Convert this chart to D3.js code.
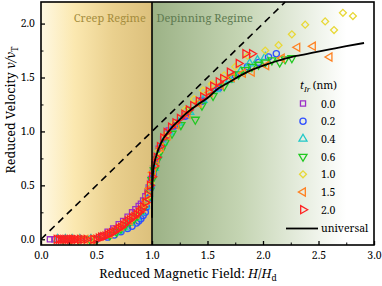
<!DOCTYPE html>
<html><head><meta charset="utf-8">
<script src="https://cdn.jsdelivr.net/npm/d3@7/dist/d3.min.js"></script>
<style>body{margin:0;background:#fff}svg{display:block}</style>
</head><body><svg id="c" width="382" height="286"></svg>
<script>
const xTicks=[0.0,0.5,1.0,1.5,2.0,2.5,3.0];
const yTicks=[0.0,0.5,1.0,1.5,2.0];
const seriesNames=["0.0","0.2","0.4","0.6","1.0","1.5","2.0"];
const h00=[0.08,0.12,0.16,0.20,0.25,0.30,0.36,0.42,0.48,0.55,0.60,0.65,0.70,0.74,0.78,0.82,0.85,0.88,0.90,0.92,0.94,0.96,0.97,0.99,1.01,1.03,1.06,1.10,1.15,1.22,1.30,1.45,1.60];
const v00=[0,0,0,0,0,0,0,0,0,0.03,0.07,0.10,0.14,0.17,0.21,0.25,0.28,0.31,0.33,0.36,0.40,0.44,0.48,0.56,0.66,0.74,0.84,0.93,1.01,1.08,1.15,1.29,1.41];
const h02=[0.20,0.24,0.30,0.36,0.44,0.50,0.60,0.66,0.72,0.78,0.82,0.86,0.88,0.90,0.92,0.94,0.95,0.97,0.99,1.01,1.04,1.08,1.13,1.20,1.30,1.45,1.60,1.75,1.86,1.96,2.05,2.12];
const v02=[0,0,0,0,0,0,0.02,0.04,0.07,0.10,0.12,0.15,0.17,0.19,0.22,0.25,0.30,0.38,0.48,0.60,0.73,0.85,0.96,1.05,1.14,1.28,1.40,1.52,1.60,1.64,1.69,1.72];
const h04=[0.15,0.22,0.28,0.35,0.45,0.60,0.66,0.70,0.75,0.80,0.86,0.90,0.94,0.97,0.99,1.02,1.05,1.10,1.16,1.24,1.34,1.46,1.58,1.70,1.80,1.88,1.95,2.02];
const v04=[0,0,0,0,0,0.03,0.06,0.08,0.11,0.15,0.20,0.25,0.31,0.42,0.52,0.66,0.78,0.90,0.99,1.08,1.18,1.29,1.39,1.48,1.56,1.63,1.66,1.69];
const h06=[0.20,0.27,0.34,0.44,0.50,0.62,0.68,0.72,0.76,0.80,0.84,0.87,0.92,0.95,0.98,1.00,1.02,1.05,1.08,1.12,1.18,1.26,1.34,1.39,1.45,1.55,1.65,1.72,1.78,1.84,1.90,1.96,2.02,2.08,2.15,2.20,2.26];
const v06=[0,0,0,0,0,0.04,0.07,0.10,0.13,0.16,0.19,0.22,0.28,0.35,0.45,0.55,0.64,0.74,0.82,0.90,0.98,1.06,1.20,1.11,1.24,1.33,1.42,1.50,1.53,1.57,1.60,1.62,1.64,1.66,1.64,1.67,1.68];
const h10=[0.30,0.38,0.45,0.62,0.72,0.82,0.88,0.93,0.96,0.99,1.02,1.06,1.12,1.20,1.30,1.38,1.46,1.54,1.65,1.75,1.86,2.02,2.14,2.26,2.38,2.56,2.64,2.72,2.81];
const v10=[0,0,0,0.05,0.11,0.19,0.25,0.32,0.40,0.52,0.68,0.82,0.96,1.07,1.20,1.30,1.38,1.44,1.52,1.60,1.70,1.75,1.80,1.90,1.99,2.02,1.94,2.10,2.07];
const h15=[0.25,0.32,0.40,0.45,0.62,0.72,0.80,0.86,0.91,0.95,0.98,1.01,1.04,1.08,1.14,1.22,1.32,1.42,1.52,1.62,1.72,1.82,1.90,2.03,2.17,2.31,2.45,2.60];
const v15=[0,0,0,0,0.05,0.12,0.17,0.23,0.29,0.36,0.47,0.62,0.74,0.85,0.96,1.06,1.16,1.26,1.36,1.43,1.50,1.54,1.55,1.61,1.68,1.78,1.79,1.69];
const h20=[0.14,0.16,0.18,0.20,0.22,0.24,0.26,0.28,0.30,0.32,0.35,0.38,0.41,0.47,0.50,0.52,0.54,0.56,0.58,0.60,0.62,0.64,0.66,0.68,0.70,0.72,0.74,0.76,0.78,0.80,0.82,0.84,0.86,0.88,0.90,0.92,0.94,0.96,0.98,1.00,1.02,1.04,1.07,1.10,1.13,1.17,1.21,1.25,1.29,1.33,1.37,1.42,1.46,1.51,1.55,1.60,1.64,1.70,1.78,1.84,1.90];
const v20=[0,0,0,0,0,0,0,0,0,0,0,0,0,0,0,0.01,0.02,0.025,0.03,0.04,0.05,0.06,0.07,0.085,0.10,0.11,0.13,0.15,0.17,0.18,0.20,0.21,0.23,0.25,0.27,0.30,0.34,0.41,0.50,0.58,0.68,0.76,0.86,0.94,0.99,1.04,1.08,1.12,1.16,1.20,1.24,1.28,1.32,1.37,1.42,1.46,1.49,1.55,1.63,1.72,1.72];
const uniH=[1.0,1.002,1.008,1.02,1.04,1.06,1.10,1.15,1.20,1.25,1.30,1.40,1.50,1.60,1.70,1.80,1.90,2.00,2.15,2.30,2.45,2.60,2.75,2.91];
const uniV=[0.20,0.40,0.60,0.70,0.78,0.84,0.93,1.00,1.06,1.11,1.16,1.24,1.31,1.40,1.46,1.52,1.57,1.61,1.66,1.70,1.73,1.76,1.79,1.82];
const dashH=[0,2.2];
const dashV=[0,2.2];

const colors=["#9b30c8","#3050ff","#20c8c8","#20c820","#e8d838","#ff8020","#ff2020"];
const H=[h00,h02,h04,h06,h10,h15,h20], V=[v00,v02,v04,v06,v10,v15,v20];
const FF="Noto Serif";

const svg=d3.select("#c");
const L=41,R=374,T=2,B=245;
const x=d3.scaleLinear().domain([0,3]).range([L,R]);
const y=d3.scaleLinear().domain([-0.053,2.2]).range([B,T]);
const defs=svg.append("defs");
const g1=defs.append("linearGradient").attr("id","creep").attr("gradientUnits","userSpaceOnUse").attr("x1",x(0)).attr("x2",x(1)).attr("y1",0).attr("y2",0);
g1.append("stop").attr("offset",0).attr("stop-color","#fef8e2");
g1.append("stop").attr("offset",0.3).attr("stop-color","#fbe8b0");
g1.append("stop").attr("offset",0.65).attr("stop-color","#ead08e");
g1.append("stop").attr("offset",1).attr("stop-color","#dcc07c");
const g2=defs.append("linearGradient").attr("id","dep").attr("gradientUnits","userSpaceOnUse").attr("x1",x(1)).attr("x2",x(2.75)).attr("y1",0).attr("y2",0);
g2.append("stop").attr("offset",0).attr("stop-color","#9cb286");
g2.append("stop").attr("offset",0.45).attr("stop-color","#c4d4b2");
g2.append("stop").attr("offset",1).attr("stop-color","#ffffff");
svg.append("rect").attr("x",x(0)).attr("y",T).attr("width",x(1)-x(0)).attr("height",B-T).attr("fill","url(#creep)");
svg.append("rect").attr("x",x(1)).attr("y",T).attr("width",x(3)-x(1)).attr("height",B-T).attr("fill","url(#dep)");

function T_(sel){return sel.attr("font-family",FF);}
svg.append("text").call(T_).attr("x",x(0.62)).attr("y",22).attr("text-anchor","middle").attr("font-size",11).attr("fill","#a48c3c").text("Creep Regime");
svg.append("text").call(T_).attr("x",x(1.04)).attr("y",22).attr("font-size",11).attr("fill","#5e7a50").text("Depinning Regime");

svg.append("path").datum(dashH.map((h,i)=>[h,dashV[i]]))
 .attr("d",d3.line().x(d=>x(d[0])).y(d=>y(d[1]))).attr("fill","none").attr("stroke","#000").attr("stroke-width",1.6).attr("stroke-dasharray","7,5");

const sym=[d3.symbolSquare,d3.symbolCircle,d3.symbolTriangle,d3.symbolTriangle,d3.symbolSquare,d3.symbolTriangle,d3.symbolTriangle];
const rot=[0,0,0,180,45,-90,90];
const sz=[26,30,28,28,24,28,28];
function marker(sel,i){
  sel.attr("d",d3.symbol().type(sym[i]).size(sz[i])()).attr("fill","none").attr("stroke",colors[i]).attr("stroke-width",1.3);
}
const clip=defs.append("clipPath").attr("id","pc");
clip.append("rect").attr("x",L).attr("y",T).attr("width",R-L).attr("height",B-T);
const pg=svg.append("g").attr("clip-path","url(#pc)");
H.forEach((hs,i)=>{
  pg.selectAll(null).data(hs.map((h,j)=>[h,V[i][j]])).enter().append("path")
   .attr("transform",d=>`translate(${x(d[0])},${y(d[1])}) rotate(${rot[i]})`).call(marker,i);
});

pg.append("path").datum(uniH.map((h,i)=>[h,uniV[i]]))
 .attr("d",d3.line().curve(d3.curveMonotoneY).x(d=>x(d[0])).y(d=>y(d[1]))).attr("fill","none").attr("stroke","#000").attr("stroke-width",1.8);

svg.append("line").attr("x1",x(1)).attr("x2",x(1)).attr("y1",T).attr("y2",B).attr("stroke","#000").attr("stroke-width",1.6);
svg.append("rect").attr("x",L).attr("y",T).attr("width",R-L).attr("height",B-T).attr("fill","none").attr("stroke","#000").attr("stroke-width",1.6);

const xa=svg.append("g").attr("transform",`translate(0,${B})`).call(d3.axisBottom(x).tickValues(xTicks).tickFormat(d3.format(".1f")).tickSizeInner(-4).tickSizeOuter(0).tickPadding(7));
xa.attr("font-family",FF);
xa.select(".domain").remove();
xa.selectAll("text").attr("font-size",10.5).attr("font-family",FF);
xa.selectAll("line").attr("stroke-width",1.3);
const xm=svg.append("g").attr("transform",`translate(0,${B})`).call(d3.axisBottom(x).tickValues([0.25,0.75,1.25,1.75,2.25,2.75]).tickFormat("").tickSizeInner(-2.5).tickSizeOuter(0));
xm.select(".domain").remove();
const ya=svg.append("g").attr("transform",`translate(${L},0)`).call(d3.axisLeft(y).tickValues(yTicks).tickFormat(d3.format(".1f")).tickSizeInner(-4).tickSizeOuter(0).tickPadding(6));
ya.attr("font-family",FF);
ya.select(".domain").remove();
ya.selectAll("text").attr("font-size",10.5).attr("font-family",FF);
ya.selectAll("line").attr("stroke-width",1.3);
const ym=svg.append("g").attr("transform",`translate(${L},0)`).call(d3.axisLeft(y).tickValues([0.25,0.75,1.25,1.75]).tickFormat("").tickSizeInner(-2.5).tickSizeOuter(0));
ym.select(".domain").remove();

const xt=svg.append("text").call(T_).attr("x",188).attr("y",278).attr("text-anchor","middle").attr("font-size",12.5);
xt.append("tspan").text("Reduced Magnetic Field: ");
xt.append("tspan").attr("font-style","italic").text("H");
xt.append("tspan").text("/");
xt.append("tspan").attr("font-style","italic").text("H");
xt.append("tspan").attr("font-size",8.5).attr("dy",3).text("d");
const yt=svg.append("text").call(T_).attr("transform","translate(15,110) rotate(-90)").attr("text-anchor","middle").attr("font-size",12.5);
yt.append("tspan").text("Reduced Velocity ");
yt.append("tspan").attr("font-style","italic").text("v/v");
yt.append("tspan").attr("font-size",8.5).attr("dy",3).text("T");

const lt=svg.append("text").call(T_).attr("x",300).attr("y",89).attr("font-size",10.5);
lt.append("tspan").attr("font-style","italic").text("t");
lt.append("tspan").attr("font-style","italic").attr("font-size",7.5).attr("dy",3).text("Ir");
lt.append("tspan").attr("dy",-3).text(" (nm)");
seriesNames.forEach((n,i)=>{
  const yy=103.5+i*17.7;
  svg.append("path").attr("transform",`translate(303,${yy}) rotate(${rot[i]})`).call(marker,i);
  svg.append("text").call(T_).attr("x",321).attr("y",yy+4).attr("font-size",10.5).text(n);
});
svg.append("line").attr("x1",286).attr("x2",318).attr("y1",228.5).attr("y2",228.5).attr("stroke","#000").attr("stroke-width",1.8);
svg.append("text").call(T_).attr("x",321).attr("y",232).attr("font-size",10.5).text("universal");
</script></body></html>
